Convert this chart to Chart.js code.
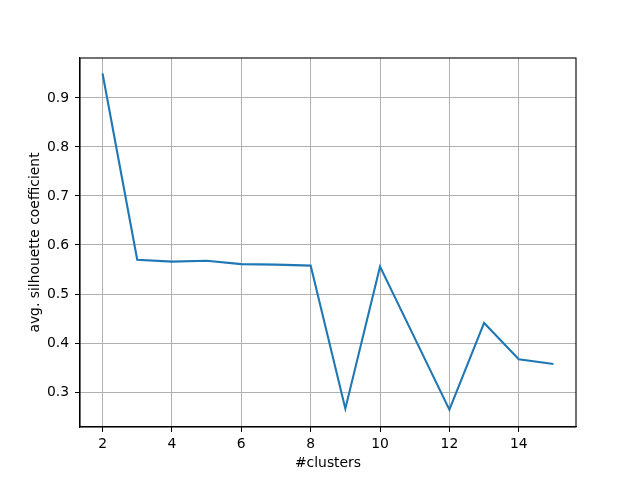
<!DOCTYPE html>
<html>
<head>
<meta charset="utf-8">
<script src="https://cdn.jsdelivr.net/npm/chart.js@4"></script>
<style>
  body { margin: 0; background: #fff; }
</style>
</head>
<body>
<canvas id="chart" width="640" height="480"></canvas>
<script>
// silhouette scores per number of clusters
const clusters = [2, 3, 4, 5, 6, 7, 8, 9, 10, 11, 12, 13, 14, 15];
const silhouette = [0.950, 0.570, 0.566, 0.568, 0.561, 0.560, 0.558, 0.266, 0.556, 0.410, 0.264, 0.441, 0.367, 0.357];
const xTicks = [2, 4, 6, 8, 10, 12, 14];
const yTicks = [0.3, 0.4, 0.5, 0.6, 0.7, 0.8, 0.9];

const font = { family: 'DejaVu Sans', size: 13.9 };

// matplotlib-style frame around the plot area
const framePlugin = {
    id: 'frame',
    afterDatasetsDraw(chart) {
        const { ctx, chartArea: a } = chart;
        ctx.save();
        ctx.strokeStyle = '#000';
        ctx.lineWidth = 1.1;
        ctx.strokeRect(a.left, a.top, a.right - a.left, a.bottom - a.top);
        ctx.restore();
    }
};

new Chart(document.getElementById('chart'), {
    type: 'line',
    data: {
        datasets: [{
            data: clusters.map((c, i) => ({ x: c, y: silhouette[i] })),
            borderColor: '#1f77b4',
            borderWidth: 2.1,
            pointRadius: 0,
            tension: 0,
            fill: false,
        }]
    },
    options: {
        responsive: false,
        animation: false,
        layout: { padding: { top: 58, right: 64, left: 0, bottom: 0 } },
        plugins: { legend: { display: false }, tooltip: { enabled: false } },
        scales: {
            x: {
                type: 'linear',
                min: 1.35,
                max: 15.65,
                afterBuildTicks: s => { s.ticks = xTicks.map(v => ({ value: v })); },
                afterFit: s => { s.height = 53; },
                ticks: { color: '#000', font, padding: 4, maxRotation: 0, callback: v => v },
                grid: { color: '#b0b0b0', lineWidth: 1, tickColor: '#000', tickLength: 5, tickWidth: 1 },
                border: { color: '#000', width: 1.1 },
                title: { display: true, text: '#clusters', color: '#000', font, padding: { top: 0, bottom: 8 } },
            },
            y: {
                min: 0.2286,
                max: 0.9816,
                afterBuildTicks: s => { s.ticks = yTicks.map(v => ({ value: v })); },
                afterFit: s => { s.width = 80; },
                ticks: { color: '#000', font, padding: 6, callback: v => v.toFixed(1) },
                grid: { color: '#b0b0b0', lineWidth: 1, tickColor: '#000', tickLength: 5, tickWidth: 1 },
                border: { color: '#000', width: 1.1 },
                title: { display: true, text: 'avg. silhouette coefficient', color: '#000', font, padding: { top: 27, bottom: 0 } },
            }
        }
    },
    plugins: [framePlugin]
});
</script>
</body>
</html>
